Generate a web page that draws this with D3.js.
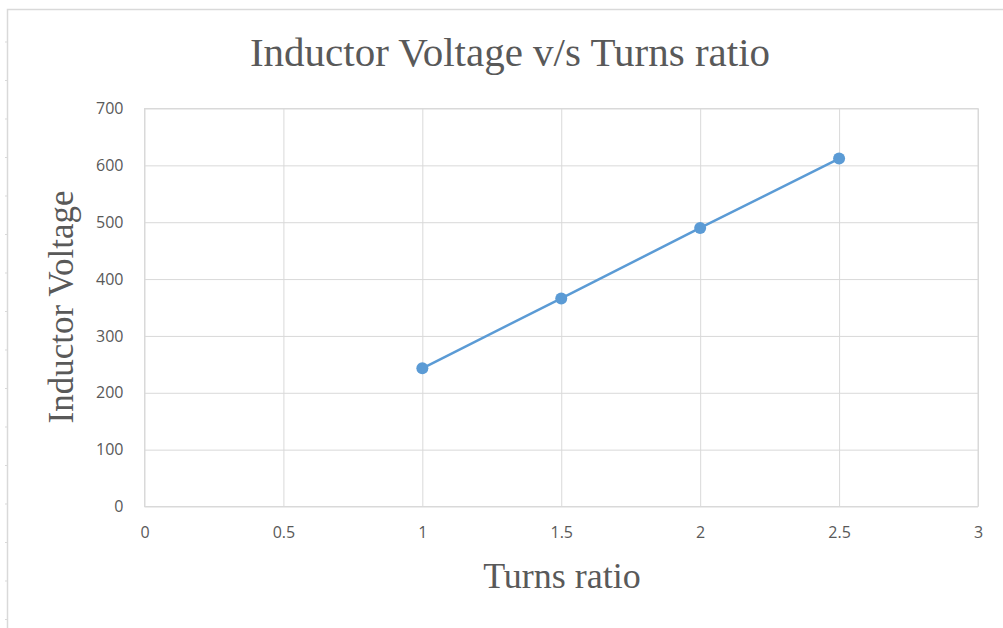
<!DOCTYPE html>
<html>
<head>
<meta charset="utf-8">
<script src="https://cdnjs.cloudflare.com/ajax/libs/d3/7.8.5/d3.min.js"></script>
<style>
  body { margin: 0; background: #fff; }
  .tick text { font-family: "Open Sans", "Liberation Sans", sans-serif; font-size: 16px; fill: #595959; }
</style>
</head>
<body>
<div id="chart"></div>
<script>
// data
var turnsRatio = [1, 1.5, 2, 2.5];
var inductorVoltage = [243, 366, 490, 612];
var xTicks = [0, 0.5, 1, 1.5, 2, 2.5, 3];
var yTicks = [0, 100, 200, 300, 400, 500, 600, 700];

var svgWidth = 1003;
var svgHeight = 628;

var margin = { top: 108.5, right: 25, bottom: 121.5, left: 144.5 };
var width = svgWidth - margin.left - margin.right;
var height = svgHeight - margin.top - margin.bottom;

var svg = d3.select("#chart")
  .append("svg")
  .attr("width", svgWidth)
  .attr("height", svgHeight);

// outer frame of the chart object
svg.append("path")
  .attr("d", "M7.5,628 V9.5 H1003")
  .attr("fill", "none")
  .attr("stroke", "#d9d9d9")
  .attr("stroke-width", 1.5);

// small ruler ticks along the left edge
svg.append("g")
  .selectAll("line")
  .data(d3.range(42, 628, 38.5))
  .enter()
  .append("line")
  .attr("x1", 5).attr("x2", 7.5)
  .attr("y1", function(d) { return d; })
  .attr("y2", function(d) { return d; })
  .attr("stroke", "#d9d9d9");

var chart = svg.append("g")
  .attr("transform", `translate(${margin.left}, ${margin.top})`);

var x = d3.scaleLinear().domain([0, 3]).range([0, width]);
var y = d3.scaleLinear().domain([0, 700]).range([height, 0]);

// gridlines
chart.append("g")
  .attr("transform", `translate(0, ${height})`)
  .call(d3.axisBottom(x).tickValues(xTicks).tickSize(-height).tickFormat(""))
  .call(function(g) { g.select(".domain").remove(); })
  .selectAll("line").attr("stroke", "#d9d9d9");

chart.append("g")
  .call(d3.axisLeft(y).tickValues(yTicks).tickSize(-width).tickFormat(""))
  .call(function(g) { g.select(".domain").remove(); })
  .selectAll("line").attr("stroke", "#d9d9d9");

// right and bottom borders of plot area
chart.append("rect")
  .attr("width", width)
  .attr("height", height)
  .attr("fill", "none")
  .attr("stroke", "#d9d9d9");

// tick labels
chart.append("g")
  .attr("transform", `translate(0, ${height})`)
  .call(d3.axisBottom(x).tickValues(xTicks).tickSize(0).tickPadding(20).tickFormat(d3.format("")))
  .call(function(g) { g.select(".domain").remove(); });

chart.append("g")
  .call(d3.axisLeft(y).tickValues(yTicks).tickSize(0).tickPadding(21))
  .call(function(g) { g.select(".domain").remove(); });

// series
var pts = turnsRatio.map(function(d, i) { return [d, inductorVoltage[i]]; });

chart.append("path")
  .datum(pts)
  .attr("fill", "none")
  .attr("stroke", "#5b9bd5")
  .attr("stroke-width", 2.5)
  .attr("d", d3.line()
    .x(function(d) { return x(d[0]); })
    .y(function(d) { return y(d[1]); }));

chart.append("g")
  .selectAll("circle")
  .data(pts)
  .enter()
  .append("circle")
  .attr("cx", function(d) { return x(d[0]); })
  .attr("cy", function(d) { return y(d[1]); })
  .attr("r", 6)
  .attr("fill", "#5b9bd5");

// titles
svg.append("text")
  .attr("x", 510)
  .attr("y", 66)
  .attr("text-anchor", "middle")
  .style("font-family", "'Liberation Serif', 'Times New Roman', serif")
  .style("font-size", "41px")
  .style("fill", "#595959")
  .text("Inductor Voltage v/s Turns ratio");

svg.append("text")
  .attr("x", 562)
  .attr("y", 588)
  .attr("text-anchor", "middle")
  .style("font-family", "'Liberation Serif', 'Times New Roman', serif")
  .style("font-size", "36px")
  .style("fill", "#595959")
  .text("Turns ratio");

svg.append("text")
  .attr("transform", "translate(73, 307) rotate(-90)")
  .attr("text-anchor", "middle")
  .style("font-family", "'Liberation Serif', 'Times New Roman', serif")
  .style("font-size", "35px")
  .style("fill", "#595959")
  .text("Inductor Voltage");
</script>
</body>
</html>
